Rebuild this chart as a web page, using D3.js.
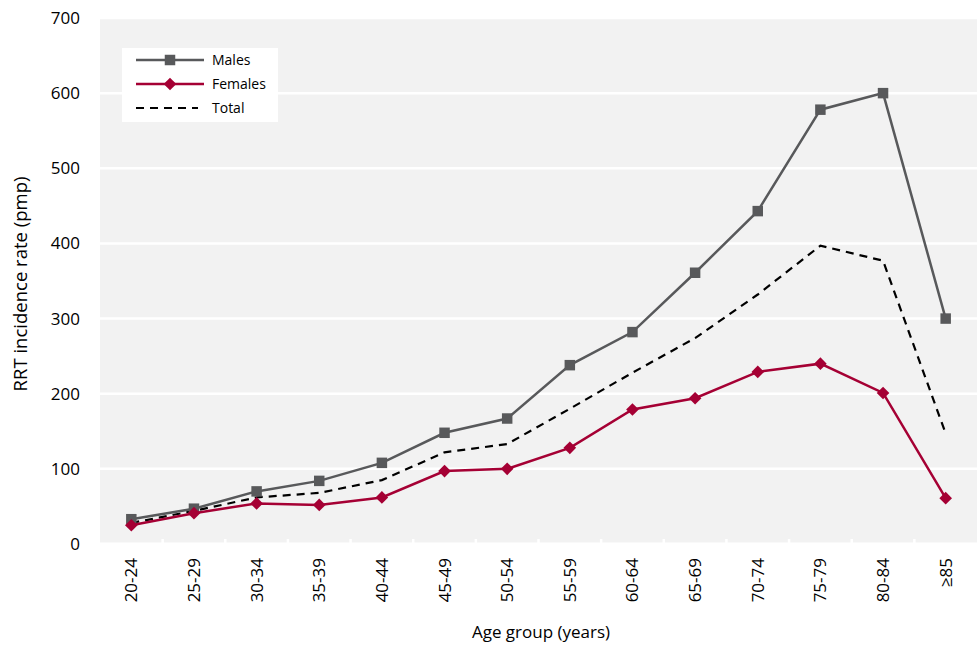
<!DOCTYPE html>
<html>
<head>
<meta charset="utf-8">
<script src="https://cdn.jsdelivr.net/npm/d3@7"></script>
<style>
  body { margin: 0; background: #fff; }
  text { font-family: "Open Sans", "Liberation Sans", sans-serif; fill: #000; }
</style>
</head>
<body>
<div class="canvas"></div>
<script>
const ageGroups = ['20-24', '25-29', '30-34', '35-39', '40-44', '45-49', '50-54',
  '55-59', '60-64', '65-69', '70-74', '75-79', '80-84', '≥85'];
const males = [33, 47, 70, 84, 108, 148, 167, 238, 282, 361, 443, 578, 600, 300];
const females = [25, 41, 54, 52, 62, 97, 100, 128, 179, 194, 229, 240, 201, 61];
const total = [28, 44, 62, 68, 85, 122, 133, 180, 228, 274, 332, 397, 377, 147];
const yTicks = [0, 100, 200, 300, 400, 500, 600, 700];

const width = 977, height = 657;
const margin = { top: 18, right: 0, bottom: 113, left: 100 };
const graphWidth = width - margin.left - margin.right;
const graphHeight = height - margin.top - margin.bottom;

const svg = d3.select('.canvas').append('svg')
  .attr('width', width)
  .attr('height', height);

const graph = svg.append('g')
  .attr('transform', `translate(${margin.left}, ${margin.top})`);

const x = d3.scaleBand()
  .domain(ageGroups)
  .range([0, graphWidth]);

const y = d3.scaleLinear()
  .domain([0, 700])
  .range([graphHeight, 0]);

const cx = d => x(d) + x.bandwidth() / 2;

// grey plot background
graph.append('rect')
  .attr('width', graphWidth)
  .attr('height', graphHeight)
  .attr('fill', '#f2f2f2');

// white gridlines
graph.selectAll('.grid').data(yTicks.slice(1)).enter().append('line')
  .attr('x1', 0).attr('x2', graphWidth)
  .attr('y1', d => y(d)).attr('y2', d => y(d))
  .attr('stroke', '#fff').attr('stroke-width', 2.5);

// y axis labels
const yAxis = d3.axisLeft(y).tickValues(yTicks).tickSize(0).tickPadding(20);
const yAxisGroup = graph.append('g').call(yAxis);
yAxisGroup.select('.domain').remove();
yAxisGroup.selectAll('text').style('font-size', '17px').attr('fill', '#000');

// x axis: white baseline and white category separators
const xAxisGroup = graph.append('g').attr('transform', `translate(0, ${graphHeight})`);
xAxisGroup.append('line')
  .attr('x1', 0).attr('x2', graphWidth)
  .attr('stroke', '#fff').attr('stroke-width', 3);
xAxisGroup.selectAll('.sep').data(ageGroups.slice(1)).enter().append('line')
  .attr('x1', d => x(d)).attr('x2', d => x(d))
  .attr('y1', -5).attr('y2', 0)
  .attr('stroke', '#fff').attr('stroke-width', 2.5);
xAxisGroup.selectAll('.xlab').data(ageGroups).enter().append('text')
  .attr('transform', d => `translate(${cx(d) + 6}, 14) rotate(-90)`)
  .attr('text-anchor', 'end')
  .style('font-size', '17px')
  .text(d => d);

// axis titles
svg.append('text')
  .attr('transform', 'translate(27, 284) rotate(-90)')
  .attr('text-anchor', 'middle')
  .style('font-size', '18.5px')
  .text('RRT incidence rate (pmp)');
svg.append('text')
  .attr('x', 541)
  .attr('y', 638)
  .attr('text-anchor', 'middle')
  .style('font-size', '17px')
  .text('Age group (years)');

const line = d3.line()
  .x((d, i) => cx(ageGroups[i]))
  .y(d => y(d));

// total (dashed)
graph.append('path').datum(total)
  .attr('d', line)
  .attr('fill', 'none')
  .attr('stroke', '#000')
  .attr('stroke-width', 2.2)
  .attr('stroke-dasharray', '8,6');

// males
graph.append('path').datum(males)
  .attr('d', line)
  .attr('fill', 'none')
  .attr('stroke', '#58595b')
  .attr('stroke-width', 2.5);
const square = d3.symbol().type(d3.symbolSquare).size(110);
graph.selectAll('.m').data(males).enter().append('path')
  .attr('d', square)
  .attr('transform', (d, i) => `translate(${cx(ageGroups[i])}, ${y(d)})`)
  .attr('fill', '#58595b');

// females
graph.append('path').datum(females)
  .attr('d', line)
  .attr('fill', 'none')
  .attr('stroke', '#a50034')
  .attr('stroke-width', 2.5);
const diamond = d3.symbol().type(d3.symbolSquare).size(80);
graph.selectAll('.f').data(females).enter().append('path')
  .attr('d', diamond)
  .attr('transform', (d, i) => `translate(${cx(ageGroups[i])}, ${y(d)}) rotate(45)`)
  .attr('fill', '#a50034');

// legend
const legend = svg.append('g').attr('transform', 'translate(122, 48)');
legend.append('rect')
  .attr('width', 156).attr('height', 74)
  .attr('fill', '#fff');
const items = [
  { name: 'Males', color: '#58595b', dash: null, mark: square, rot: 0 },
  { name: 'Females', color: '#a50034', dash: null, mark: diamond, rot: 45 },
  { name: 'Total', color: '#000', dash: '8,6', mark: null, rot: 0 }
];
items.forEach((it, i) => {
  const ly = 12 + i * 24;
  legend.append('line')
    .attr('x1', 14).attr('x2', it.dash ? 76 : 82)
    .attr('y1', ly).attr('y2', ly)
    .attr('stroke', it.color)
    .attr('stroke-width', it.dash ? 2.2 : 2.5)
    .attr('stroke-dasharray', it.dash);
  if (it.mark) {
    legend.append('path')
      .attr('d', it.mark)
      .attr('transform', `translate(48, ${ly}) rotate(${it.rot})`)
      .attr('fill', it.color);
  }
  legend.append('text')
    .attr('x', 90).attr('y', ly + 5)
    .style('font-size', '14px')
    .text(it.name);
});
</script>
</body>
</html>
